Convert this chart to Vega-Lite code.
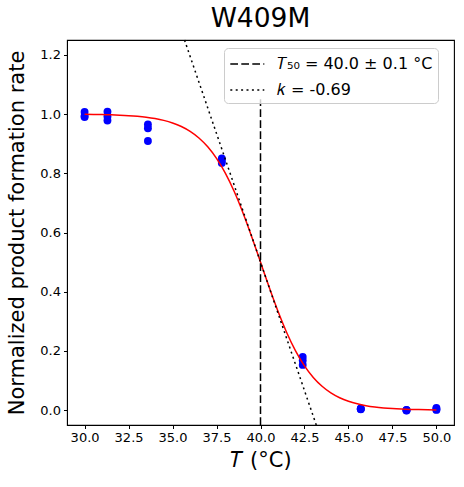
{
  "$schema": "https://vega.github.io/schema/vega-lite/v6.json",
  "autosize": {"type": "none"},
  "padding": {"left": 67, "top": 40, "right": 10, "bottom": 62},
  "width": 387,
  "height": 385,
  "background": "white",
  "title": {"text": "W409M", "fontSize": 26.5, "fontWeight": "normal", "font": "DejaVu Sans", "color": "black", "offset": 5},
  "config": {
    "font": "DejaVu Sans",
    "view": {"stroke": "black", "strokeWidth": 1.1},
    "axis": {"grid": false, "domainColor": "black", "tickColor": "black", "tickSize": 3.5, "labelColor": "black", "labelFontSize": 13, "titleFontSize": 21, "titleFontWeight": "normal", "titleColor": "black", "labelFont": "DejaVu Sans", "titleFont": "DejaVu Sans"}
  },
  "datasets": {
    "points": [
      {"T": 30.0, "rate": 1.007}, {"T": 30.0, "rate": 0.990}, {"T": 30.0, "rate": 0.993},
      {"T": 31.3, "rate": 1.008}, {"T": 31.3, "rate": 0.992}, {"T": 31.3, "rate": 0.978},
      {"T": 33.6, "rate": 0.965}, {"T": 33.6, "rate": 0.952}, {"T": 33.6, "rate": 0.909},
      {"T": 37.8, "rate": 0.850}, {"T": 37.8, "rate": 0.842}, {"T": 37.8, "rate": 0.835},
      {"T": 42.4, "rate": 0.180}, {"T": 42.4, "rate": 0.168}, {"T": 42.4, "rate": 0.153},
      {"T": 45.7, "rate": 0.004}, {"T": 45.7, "rate": 0.006}, {"T": 45.7, "rate": 0.003},
      {"T": 48.3, "rate": -0.001}, {"T": 48.3, "rate": 0.001}, {"T": 48.3, "rate": 0.000},
      {"T": 50.0, "rate": 0.003}, {"T": 50.0, "rate": 0.008}, {"T": 50.0, "rate": 0.001}
    ],
    "curve": [
      {"T": 30.0, "fit": 0.99904}, {"T": 30.5, "fit": 0.99864}, {"T": 31.0, "fit": 0.99807}, {"T": 31.5, "fit": 0.99728},
      {"T": 32.0, "fit": 0.99615}, {"T": 32.5, "fit": 0.99456}, {"T": 33.0, "fit": 0.99232}, {"T": 33.5, "fit": 0.98917},
      {"T": 34.0, "fit": 0.98474}, {"T": 34.5, "fit": 0.97853}, {"T": 35.0, "fit": 0.96988}, {"T": 35.5, "fit": 0.95791},
      {"T": 36.0, "fit": 0.94146}, {"T": 36.5, "fit": 0.91914}, {"T": 37.0, "fit": 0.88929}, {"T": 37.5, "fit": 0.85019},
      {"T": 38.0, "fit": 0.80039}, {"T": 38.5, "fit": 0.73921}, {"T": 39.0, "fit": 0.66693}, {"T": 39.5, "fit": 0.58589},
      {"T": 40.0, "fit": 0.5}, {"T": 40.5, "fit": 0.41411}, {"T": 41.0, "fit": 0.33307}, {"T": 41.5, "fit": 0.26079},
      {"T": 42.0, "fit": 0.19961}, {"T": 42.5, "fit": 0.14981}, {"T": 43.0, "fit": 0.11071}, {"T": 43.5, "fit": 0.08086},
      {"T": 44.0, "fit": 0.05854}, {"T": 44.5, "fit": 0.04209}, {"T": 45.0, "fit": 0.03012}, {"T": 45.5, "fit": 0.02147},
      {"T": 46.0, "fit": 0.01526}, {"T": 46.5, "fit": 0.01083}, {"T": 47.0, "fit": 0.00768}, {"T": 47.5, "fit": 0.00544},
      {"T": 48.0, "fit": 0.00385}, {"T": 48.5, "fit": 0.00272}, {"T": 49.0, "fit": 0.00193}, {"T": 49.5, "fit": 0.00136},
      {"T": 50.0, "fit": 0.00096}
    ],
    "vline": [
      {"T": 40.0, "y1": -0.05, "y2": 1.05, "series": "𝑇₅₀ = 40.0 ± 0.1 °C"}
    ],
    "tangent": [
      {"T": 35.68, "y": 1.25, "series": "𝑘 = -0.69"},
      {"T": 43.17, "y": -0.05, "series": "𝑘 = -0.69"}
    ]
  },
  "layer": [
    {
      "data": {"name": "points"},
      "mark": {"type": "circle", "color": "#0000ff", "opacity": 1, "size": 62},
      "encoding": {
        "x": {"field": "T", "type": "quantitative", "scale": {"domain": [29, 51], "nice": false, "zero": false},
              "axis": {"values": [30, 32.5, 35, 37.5, 40, 42.5, 45, 47.5, 50], "format": ".1f", "title": "𝑇 (°C)", "labelPadding": 3, "titlePadding": 5}},
        "y": {"field": "rate", "type": "quantitative", "scale": {"domain": [-0.05, 1.25], "nice": false, "zero": false},
              "axis": {"values": [0, 0.2, 0.4, 0.6, 0.8, 1.0, 1.2], "format": ".1f", "title": "Normalized product formation rate", "labelPadding": 3, "titlePadding": 12}}
      }
    },
    {
      "data": {"name": "curve"},
      "mark": {"type": "line", "color": "#ff0000", "strokeWidth": 1.5, "interpolate": "monotone"},
      "encoding": {
        "x": {"field": "T", "type": "quantitative"},
        "y": {"field": "fit", "type": "quantitative"}
      }
    },
    {
      "data": {"name": "vline"},
      "mark": {"type": "rule", "color": "black", "strokeWidth": 1.5},
      "encoding": {
        "x": {"field": "T", "type": "quantitative"},
        "y": {"field": "y1", "type": "quantitative"},
        "y2": {"field": "y2"},
        "strokeDash": {"field": "series", "type": "nominal",
          "scale": {"domain": ["𝑇₅₀ = 40.0 ± 0.1 °C", "𝑘 = -0.69"], "range": [[7.7, 3.3], [2, 3.4]]},
          "legend": {"title": null, "orient": "none", "legendX": 157, "legendY": 8, "symbolType": "M-0.97,0L2.43,0", "symbolSize": 400, "symbolStrokeWidth": 1.5, "symbolStrokeColor": "black", "labelFontSize": 16, "labelFont": "DejaVu Sans", "labelColor": "black", "labelOffset": 26, "rowPadding": 7, "padding": 5, "fillColor": "rgba(255,255,255,0.8)", "strokeColor": "#cccccc", "cornerRadius": 4}}
      }
    },
    {
      "data": {"name": "tangent"},
      "mark": {"type": "line", "color": "black", "strokeWidth": 1.5},
      "encoding": {
        "x": {"field": "T", "type": "quantitative"},
        "y": {"field": "y", "type": "quantitative"},
        "strokeDash": {"field": "series", "type": "nominal"}
      }
    }
  ]
}
